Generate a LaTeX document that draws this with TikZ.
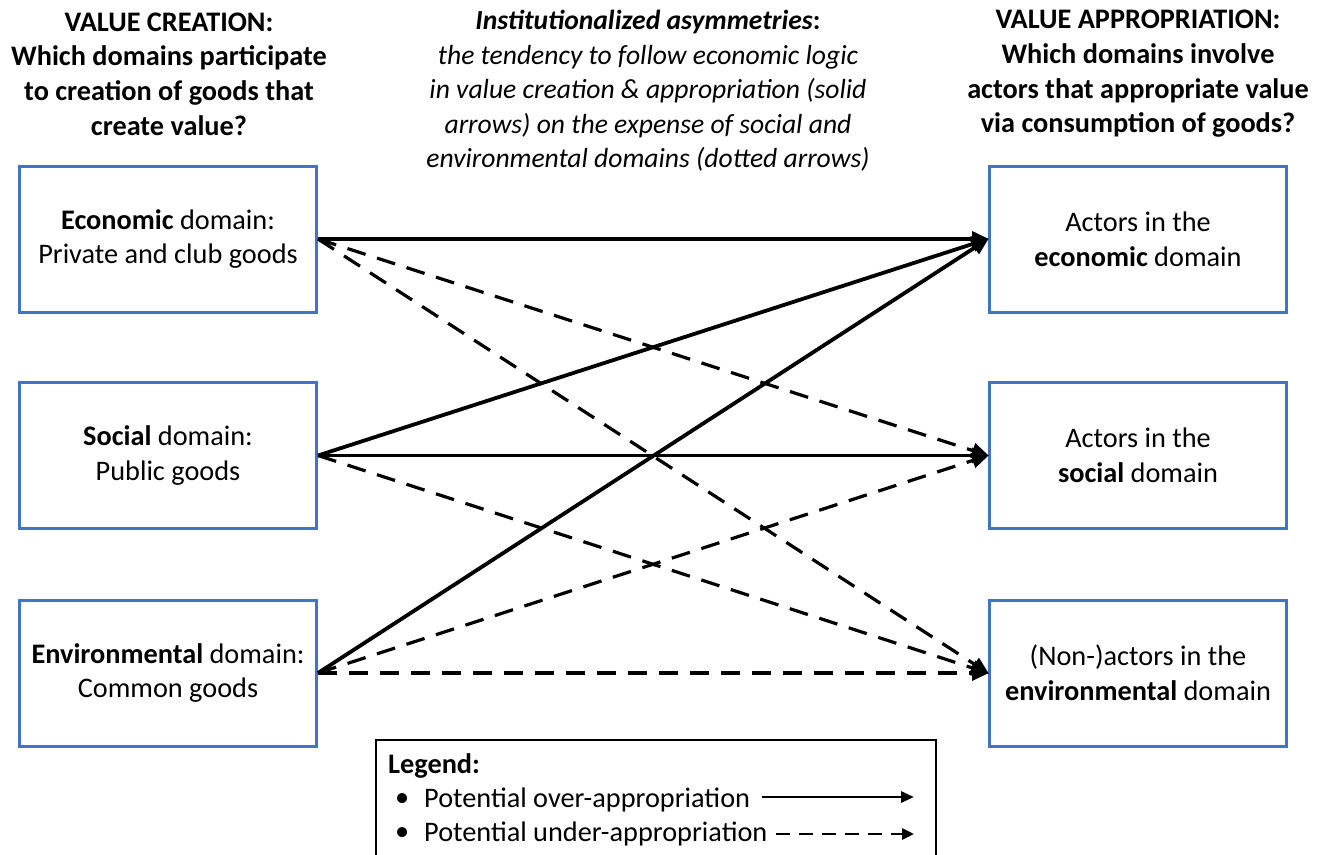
\documentclass[tikz,border=0pt]{standalone}
\usepackage{fontspec}
\setmainfont{Carlito}
\usetikzlibrary{arrows.meta}
\definecolor{boxblue}{HTML}{4472C4}
\newcommand\myfs{\fontsize{28.3}{34.6}\selectfont}
\newcommand\midfs{\fontsize{27.6}{34.6}\selectfont}
\begin{document}
\begin{tikzpicture}[x=1pt,y=-1pt,
  box/.style={draw=boxblue, line width=3pt, minimum width=297pt, minimum height=146pt, align=center, font=\myfs, inner sep=0pt},
  head/.style={align=center, font=\myfs\bfseries},
  solidarr/.style={line width=3.8pt, -{Triangle[length=17pt,width=15pt]}, shorten >=-1pt},
  dasharr/.style={line width=3.2pt, dash pattern=on 19pt off 12pt, -{Triangle[length=17pt,width=15pt]}, shorten >=-1pt},
  legtext/.style={anchor=west, font=\myfs, inner sep=0pt}]
\useasboundingbox (0,0) rectangle (1329,854);
% headers
\node[head] (hl) at (169,74) {VALUE CREATION:\\Which domains participate\\to creation of goods that\\create value?};
\node[align=center, font=\midfs] (hm) at (648,91) {\textbf{\textit{Institutionalized asymmetries}:}\\\textit{the tendency to follow economic logic}\\\textit{in value creation \& appropriation (solid}\\\textit{arrows) on the expense of social and}\\\textit{environmental domains (dotted arrows)}};
\node[head] (hr) at (1138,74) {VALUE APPROPRIATION:\\Which domains involve\\actors that appropriate value\\via consumption of goods?};
% boxes
\node[box] (le) at (168,239) {\textbf{Economic} domain:\\Private and club goods};
\node[box] (ls) at (168,455.5) {\textbf{Social} domain:\\Public goods};
\node[box] (lv) at (168,673) {\textbf{Environmental} domain:\\Common goods};
\node[box] (re) at (1138,239) {Actors in the\\\textbf{economic} domain};
\node[box] (rs) at (1138,455.5) {Actors in the\\\textbf{social} domain};
\node[box] (rv) at (1138,673) {(Non-)actors in the\\\textbf{environmental} domain};
% arrows
\draw[dasharr] (le.east) -- (rs.west);
\draw[dasharr] (le.east) -- (rv.west);
\draw[dasharr] (ls.east) -- (rv.west);
\draw[dasharr] (lv.east) -- (rs.west);
\draw[dasharr] (lv.east) -- (rv.west);
\draw[solidarr] (le.east) -- (re.west);
\draw[solidarr] (ls.east) -- (re.west);
\draw[solidarr] (ls.east) -- (rs.west);
\draw[solidarr] (lv.east) -- (re.west);
% legend
\draw[line width=1.2pt] (376,856) -- (376,740) -- (936,740) -- (936,856);
\node[legtext, font=\myfs\bfseries] (lg) at (388,766) {Legend:};
\node[legtext] (b1) at (395,800) {\textbullet};
\node[legtext] (b2) at (395,834) {\textbullet};
\node[legtext] (t1) at (424,800) {Potential over-appropriation};
\node[legtext] (t2) at (424,834) {Potential under-appropriation};
\coordinate (a1s) at (762,797);
\coordinate (a1e) at (914,797);
\coordinate (a2s) at (776,834);
\coordinate (a2e) at (914,834);
\draw[line width=2.8pt, -{Triangle[length=13pt,width=11pt]}] (a1s) -- (a1e);
\draw[line width=2.8pt, dash pattern=on 14pt off 9pt, -{Triangle[length=12pt,width=11pt]}] (a2s) -- (a2e);
\end{tikzpicture}
\end{document}
